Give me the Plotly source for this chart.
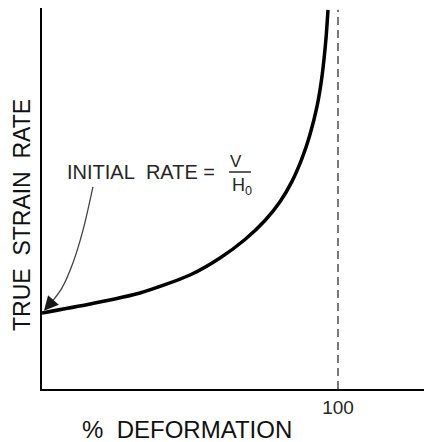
import plotly.graph_objects as go

# Curve: % deformation vs true strain rate (units of initial rate)
pct_deformation = [0, 16.22, 33.11, 50.0, 60.14, 68.58, 75.34, 80.41, 84.46, 87.84, 90.54, 92.91, 94.59, 95.95, 96.62]
true_strain_rate = [1.0, 1.118, 1.263, 1.5, 1.724, 1.967, 2.217, 2.463, 2.732, 3.034, 3.35, 3.718, 4.113, 4.613, 4.987]

# Asymptote at 100 % deformation
limit_x = [100, 100]
limit_y = [0, 4.99]

# Curved pointer from label to the initial rate
pointer_x = [17.2, 13.85, 10.47, 6.76, 3.6]
pointer_y = [2.66, 2.09, 1.66, 1.33, 1.16]
pointer_tip = (0.68, 1.03)

x_tick_vals = [100]
x_tick_text = ["100"]

X_RANGE = [0, 131.76]
Y_RANGE = [0, 5.013]

FONT = "Liberation Sans, Arial, sans-serif"
INK = "#111111"
LABEL_INK = "#262626"

# page body has an 8px margin: size the figure so the drawing lands in the window
OFF = 8
W, H = 432 - OFF, 442 - OFF
L, R, T, B = 42 - OFF, 0, 0, 442 - 389  # plot bottom at window y=389

fig = go.Figure()

fig.add_trace(go.Scatter(
    x=limit_x, y=limit_y, mode="lines",
    line=dict(color="#7a7a7a", width=2, dash="8px,5px"),
    hoverinfo="skip", showlegend=False,
))

fig.add_trace(go.Scatter(
    x=pct_deformation, y=true_strain_rate, mode="lines",
    line=dict(color="black", width=3.5, shape="spline", smoothing=0.7),
    showlegend=False,
))

fig.add_trace(go.Scatter(
    x=pointer_x, y=pointer_y, mode="lines",
    line=dict(color="#444444", width=1.3, shape="spline"),
    hoverinfo="skip", showlegend=False,
))

# arrow head
fig.add_annotation(
    x=pointer_tip[0], y=pointer_tip[1], ax=pointer_x[-1], ay=pointer_y[-1],
    xref="x", yref="y", axref="x", ayref="y",
    showarrow=True, arrowhead=2, arrowsize=2.2, arrowwidth=1.3,
    arrowcolor="#1a1a1a", text=" ", standoff=0, startstandoff=0,
)

# label "INITIAL RATE = V/H0"
fig.add_annotation(
    x=59.1, y=2.855, xref="x", yref="y", xanchor="right", yanchor="middle",
    text="INITIAL\u00a0\u00a0RATE\u00a0=", showarrow=False,
    font=dict(family=FONT, size=20, color=LABEL_INK),
)
fig.add_annotation(
    x=65.6, y=2.99, xref="x", yref="y", xanchor="center", yanchor="middle",
    text="V", showarrow=False, font=dict(family=FONT, size=17, color=LABEL_INK),
)
fig.add_shape(type="line", x0=63.2, x1=70.6, y0=2.855, y1=2.855,
              xref="x", yref="y", line=dict(color=LABEL_INK, width=1.5))
fig.add_annotation(
    x=63.4, y=2.67, xref="x", yref="y", xanchor="left", yanchor="middle",
    text="H<sub>0</sub>", showarrow=False, font=dict(family=FONT, size=18, color=LABEL_INK),
)


def paper_x(px):
    return (px - OFF - L) / (W - L - R)


def paper_y(py):
    return (H - B - (py - OFF)) / (H - T - B)


# axis titles (positions in window pixels)
fig.add_annotation(
    x=paper_x(187), y=paper_y(429), xref="paper", yref="paper",
    xanchor="center", yanchor="middle", text="%\u00a0\u00a0DEFORMATION",
    showarrow=False, font=dict(family=FONT, size=24, color=INK),
)
fig.add_annotation(
    x=paper_x(22), y=paper_y(215), xref="paper", yref="paper",
    xanchor="center", yanchor="middle", text="TRUE\u00a0\u00a0STRAIN\u00a0\u00a0RATE",
    textangle=-90, showarrow=False, font=dict(family=FONT, size=23, color=INK),
)

fig.update_layout(
    width=W, height=H,
    margin=dict(l=L, r=R, t=T, b=B, pad=0),
    paper_bgcolor="white", plot_bgcolor="white",
    showlegend=False,
    xaxis=dict(
        range=X_RANGE, showgrid=False, zeroline=False,
        showline=True, linecolor="black", linewidth=2,
        tickmode="array", tickvals=x_tick_vals, ticktext=x_tick_text,
        ticks="", tickfont=dict(family=FONT, size=19, color=LABEL_INK),
    ),
    yaxis=dict(
        range=Y_RANGE, showgrid=False, zeroline=False,
        showline=True, linecolor="black", linewidth=2,
        showticklabels=False, ticks="",
    ),
)

fig.write_html("out.html")
